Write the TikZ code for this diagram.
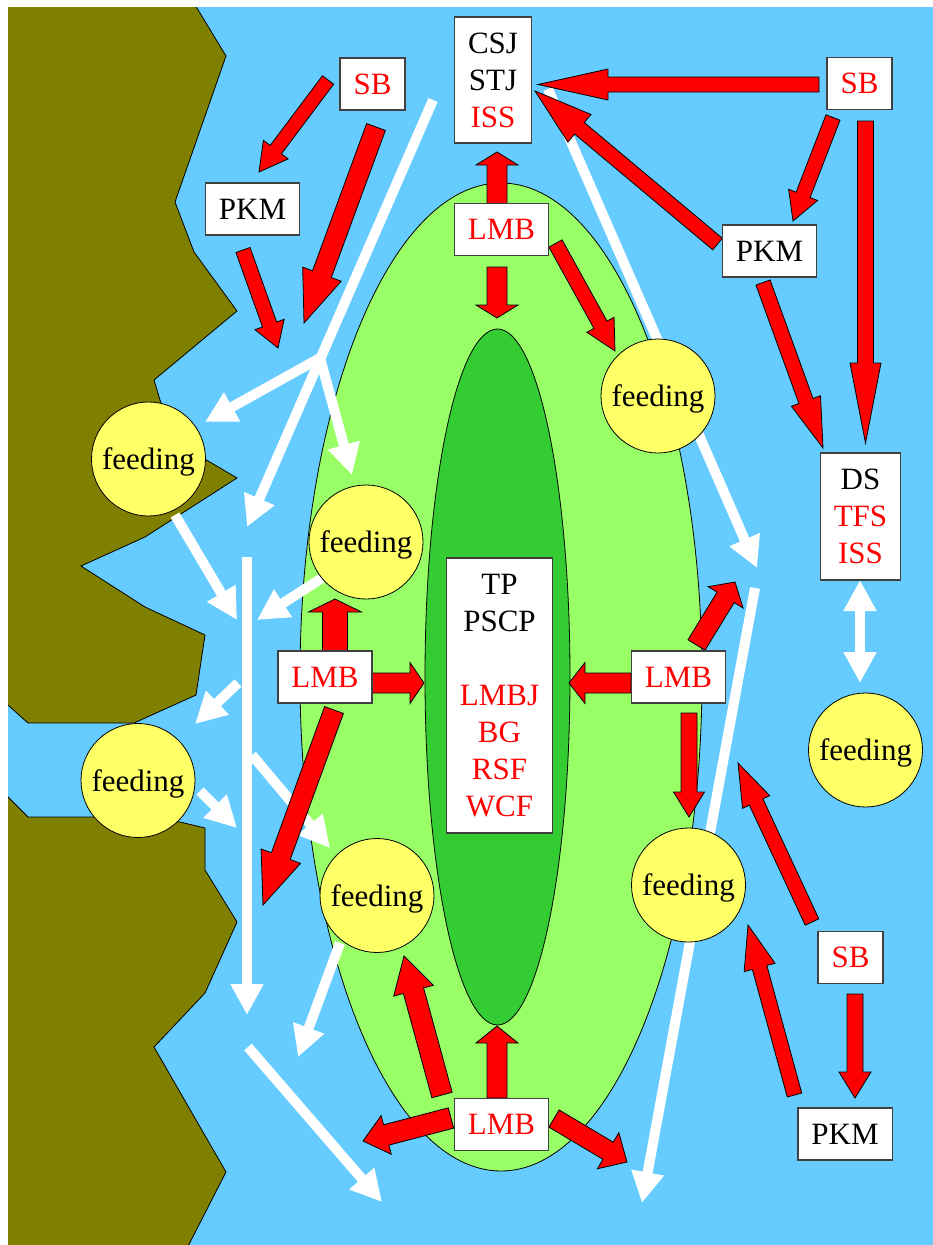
\documentclass[tikz,border=0pt]{standalone}
\usepackage{fontspec}
\setmainfont{Liberation Serif}
\usetikzlibrary{calc,arrows.meta}

\definecolor{water}{HTML}{66CCFF}
\definecolor{shore}{HTML}{808000}
\definecolor{reed}{HTML}{99FF66}
\definecolor{bed}{HTML}{33CC33}
\definecolor{food}{HTML}{FFFF66}

\tikzset{
	box/.style={draw=black!75, fill=white, line width=1.2pt, inner xsep=13.5pt, inner ysep=0pt, minimum height=52pt, align=center},
	feed/.style={circle, draw=black, fill=food, line width=0.8pt, minimum size=114pt, inner sep=0pt, text depth=0pt},
	flow/.style={white, line width=10pt, >={Triangle[width=31pt,length=31pt]}, ->},
	redarrow/.style={fill=red, draw=black, line width=0.8pt},
	outline/.style={draw=black, line width=0.8pt},
}

% tail, tip, shaft width, head width, head length
\newcommand{\blockarrow}[5]{%
	\pgfmathsetmacro\shaftw{#3/2}%
	\pgfmathsetmacro\headw{#4/2}%
	\path[redarrow] ($(#1)!\shaftw pt!90:(#2)$)
		-- ($(#2)!#5pt!(#1)!\shaftw pt!-90:(#1)$)
		-- ($(#2)!#5pt!(#1)!\headw pt!-90:(#1)$)
		-- (#2)
		-- ($(#2)!#5pt!(#1)!\headw pt!90:(#1)$)
		-- ($(#2)!#5pt!(#1)!\shaftw pt!90:(#1)$)
		-- ($(#1)!\shaftw pt!-90:(#2)$) -- cycle;
}

\begin{document}
\begin{tikzpicture}[x=1pt, y=-1pt, every node/.style={font=\fontsize{31}{37}\selectfont}]
	\useasboundingbox (0,0) rectangle (933,1245);
	\fill[water] (8,7) rectangle (933,1245);

	% land
	\begin{scope}
		\clip (8,7) rectangle (933,1245);
		\filldraw[fill=shore, outline] (-10,-10) -- (186,-10) -- (226,56) -- (175,202) -- (194,252) -- (237,311) -- (154,380) -- (160,400) -- (175,440) -- (203,458) -- (237,478) -- (145,537) -- (81,566) -- (145,607) -- (205,635) -- (196,695) -- (134,723) -- (28,723) -- (-10,689) -- cycle;
		\filldraw[fill=shore, outline] (-10,779) -- (28,817) -- (140,817) -- (180,822) -- (205,828) -- (205,870) -- (237,922) -- (205,993) -- (154,1047) -- (226,1172) -- (181,1260) -- (-10,1260) -- cycle;
	\end{scope}

	% lake bed
	\filldraw[fill=reed, outline] (501,677) ellipse [x radius=201pt, y radius=494pt];
	\filldraw[fill=bed, outline] (497.5,677) ellipse [x radius=72.5pt, y radius=348pt];

	% water flow
	\draw[flow] (433,100) -- (247,527);
	\draw[flow] (320,358) -- (205,422);
	\draw[flow] (320,358) -- (352,475);
	\draw[flow] (175,515) -- (237,620);
	\draw[flow] (247,557) -- (247,1015);
	\draw[flow] (322,578) -- (257,620);
	\draw[flow] (238,683) -- (195,724);
	\draw[flow] (200,791) -- (237,828);
	\draw[flow] (252,755) -- (330,848);
	\draw[flow] (340,943) -- (298,1057);
	\draw[flow] (248,1047) -- (382,1202);
	\draw[flow] (548,89) -- (757,568);
	\draw[flow] (755,588) -- (642,1203);
	\draw[flow, <->] (860,580) -- (860,683);

	\node[feed] (f1) at (148.5,459) {feeding};
	\node[feed] (f2) at (366,542) {feeding};
	\node[feed] (f3) at (138,780.5) {feeding};
	\node[feed] (f4) at (377,895.5) {feeding};
	\node[feed] (f5) at (658,396) {feeding};
	\node[feed] (f6) at (688.5,885) {feeding};
	\node[feed] (f7) at (865.5,750) {feeding};

	% influences
	\blockarrow{328,80}{259,172}{14}{31}{28}
	\blockarrow{376,127}{304,323}{20}{41}{52}
	\blockarrow{243,250}{278,348}{15}{31}{25}
	\blockarrow{819,84.5}{538,84.5}{15}{31}{70}
	\blockarrow{717.5,244}{535,91}{15}{36}{58}
	\blockarrow{833,117.5}{793,221}{15}{31}{28}
	\blockarrow{865.5,121}{865.5,443}{16}{31}{80}
	\blockarrow{763,282.5}{823,448}{15}{31}{50}
	\blockarrow{497,204}{497,152}{20}{42}{13}
	\blockarrow{497,267}{497,318}{20}{42}{13}
	\blockarrow{555.5,243.5}{615,351}{15}{31}{30}
	\blockarrow{335,651}{335,599}{25}{53}{13}
	\blockarrow{372,683}{424,683}{20}{41}{14}
	\blockarrow{334,710}{263,905}{20}{42}{52}
	\blockarrow{631,683}{569,683}{20}{41}{16}
	\blockarrow{696.5,645}{735,582}{20}{41}{18}
	\blockarrow{689,713}{689,817}{16}{31}{25}
	\blockarrow{812,922}{738,763}{15}{30}{43}
	\blockarrow{794.5,1095}{748,925}{15}{32}{44}
	\blockarrow{855,994}{855,1098}{16}{32}{26}
	\blockarrow{497,1098}{497,1026}{20}{42}{17}
	\blockarrow{442,1095}{404,956}{21}{41}{36}
	\blockarrow{451,1118}{363,1141}{21}{40}{24}
	\blockarrow{554,1118.5}{627,1162}{20}{42}{22}

	\node[box, minimum height=126pt] (csj) at (493,80) {CSJ\\STJ\\\textcolor{red}{ISS}};
	\node[box, text=red] (sb1) at (372.5,84) {SB};
	\node[box, text=red] (sb2) at (859.5,83.5) {SB};
	\node[box] (pkm1) at (252.5,209) {PKM};
	\node[box] (pkm2) at (769.5,251) {PKM};
	\node[box, minimum height=127pt] (ds) at (860.5,516.5) {DS\\\textcolor{red}{TFS}\\\textcolor{red}{ISS}};
	\node[box, text=red] (lmb1) at (501.5,229.5) {LMB};
	\node[box, text=red] (lmb2) at (325,677) {LMB};
	\node[box, text=red] (lmb3) at (678.5,677) {LMB};
	\node[box, text=red] (lmb4) at (501.5,1124.5) {LMB};
	\node[box, minimum height=275pt] (tp) at (499.5,695.5) {TP\\PSCP\\[37pt]\textcolor{red}{LMBJ}\\\textcolor{red}{BG}\\\textcolor{red}{RSF}\\\textcolor{red}{WCF}};
	\node[box, text=red] (sb3) at (850.5,957.5) {SB};
	\node[box] (pkm3) at (845,1134) {PKM};
\end{tikzpicture}
\end{document}
